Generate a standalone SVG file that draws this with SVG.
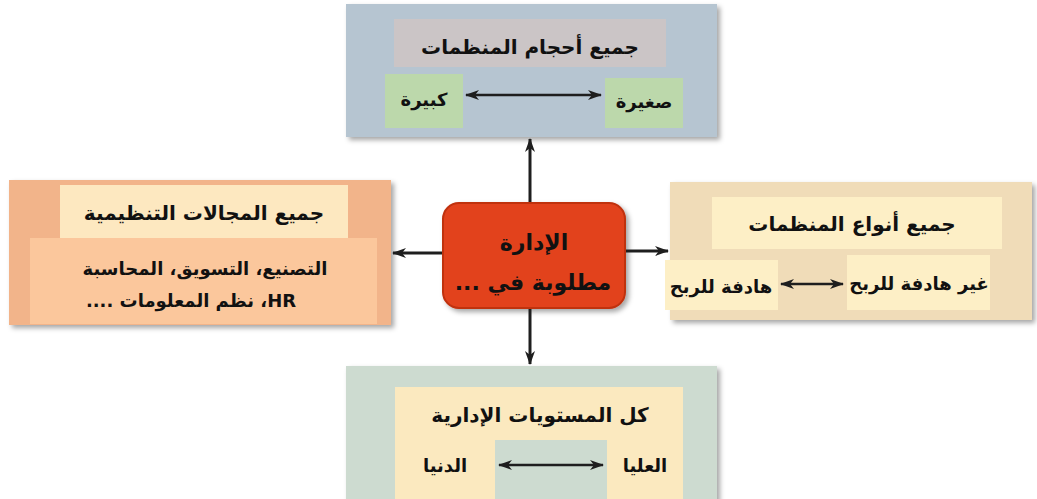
<svg xmlns="http://www.w3.org/2000/svg" width="1037" height="499" viewBox="0 0 1037 499">
<defs>
<filter id="sh" x="-10%" y="-10%" width="125%" height="125%">
<feDropShadow dx="3" dy="3" stdDeviation="2.5" flood-color="#000" flood-opacity="0.35"/>
</filter>
<marker id="ah" viewBox="0 0 14 10" refX="13" refY="5" markerWidth="14" markerHeight="10" markerUnits="userSpaceOnUse" orient="auto-start-reverse">
<path d="M0,0 L14,5 L0,10 L4,5 Z" fill="#1e1e1e"/>
</marker>
</defs>
<style>
text{font-family:"DejaVu Sans",sans-serif;font-weight:bold;fill:#111;text-anchor:middle}
.t{font-size:20px}
.s{font-size:18px}
.c{font-size:22px}
.ln{stroke:#1e1e1e;stroke-width:3;fill:none}
.dl{stroke:#1e1e1e;stroke-width:2.5;fill:none}
</style>
<rect width="1037" height="499" fill="#ffffff"/>

<g id="top">
<rect x="346" y="4" width="371" height="133" fill="#b6c5d1" filter="url(#sh)"/>
<rect x="394" y="19" width="272" height="48" fill="#cbc5c6"/>
<rect x="385" y="74" width="78" height="54" fill="#bcd8ab"/>
<rect x="605" y="78" width="78" height="50" fill="#bcd8ab"/>
<text class="t" x="530" y="54" direction="rtl">جميع أحجام المنظمات</text>
<text class="s" x="424" y="106" direction="rtl">كبيرة</text>
<text class="s" x="644" y="108" direction="rtl">صغيرة</text>
<line class="dl" x1="466" y1="95" x2="601" y2="95" marker-start="url(#ah)" marker-end="url(#ah)"/>
</g>

<g id="left">
<rect x="9" y="180" width="382" height="145" fill="#f2b48a" filter="url(#sh)"/>
<rect x="60" y="185" width="288" height="53" fill="#fde8c0"/>
<rect x="30" y="238" width="347" height="86" fill="#fbc79c"/>
<text class="t" x="204" y="220" direction="rtl">جميع المجالات التنظيمية</text>
<text class="s" x="205" y="275" direction="rtl">التصنيع، التسويق، المحاسبة</text>
<text class="s" x="191" y="307" direction="rtl">HR، نظم المعلومات ....</text>
</g>

<g id="right">
<rect x="670" y="182" width="362" height="138" fill="#f0dcb8" filter="url(#sh)"/>
<rect x="712" y="197" width="290" height="52" fill="#fdefc6"/>
<rect x="665" y="260" width="113" height="50" fill="#fdefc6"/>
<rect x="847" y="255" width="143" height="55" fill="#fdefc6"/>
<text class="t" x="852" y="231" direction="rtl">جميع أنواع المنظمات</text>
<text class="s" x="919" y="290" direction="rtl">غير هادفة للربح</text>
<text class="s" x="721" y="293" direction="rtl">هادفة للربح</text>
<line class="dl" x1="781" y1="284" x2="843" y2="284" marker-start="url(#ah)" marker-end="url(#ah)"/>
</g>

<g id="bottom">
<rect x="346" y="366" width="371" height="140" fill="#cddbd0" filter="url(#sh)"/>
<rect x="395" y="387" width="288" height="112" fill="#fbe9bf"/>
<rect x="495" y="440" width="112" height="59" fill="#cddbd0"/>
<text class="t" x="540" y="422" direction="rtl">كل المستويات الإدارية</text>
<text class="s" x="645" y="472" direction="rtl">العليا</text>
<text class="s" x="445" y="472" direction="rtl">الدنيا</text>
<line class="dl" x1="499" y1="465" x2="603" y2="465" marker-start="url(#ah)" marker-end="url(#ah)"/>
</g>

<g id="center">
<rect x="443" y="203" width="182" height="105" rx="16" fill="#e2431c" stroke="#c03010" stroke-width="2" filter="url(#sh)"/>
<text class="c" x="534" y="250" direction="rtl">الإدارة</text>
<text class="c" x="533" y="290" direction="rtl">مطلوبة في ...</text>
</g>

<g id="connectors">
<line class="ln" x1="530" y1="202" x2="530" y2="139" marker-end="url(#ah)"/>
<line class="ln" x1="530" y1="309" x2="530" y2="364" marker-end="url(#ah)"/>
<line class="ln" x1="442" y1="253" x2="393" y2="253" marker-end="url(#ah)"/>
<line class="ln" x1="626" y1="251" x2="668" y2="251" marker-end="url(#ah)"/>
</g>
</svg>
